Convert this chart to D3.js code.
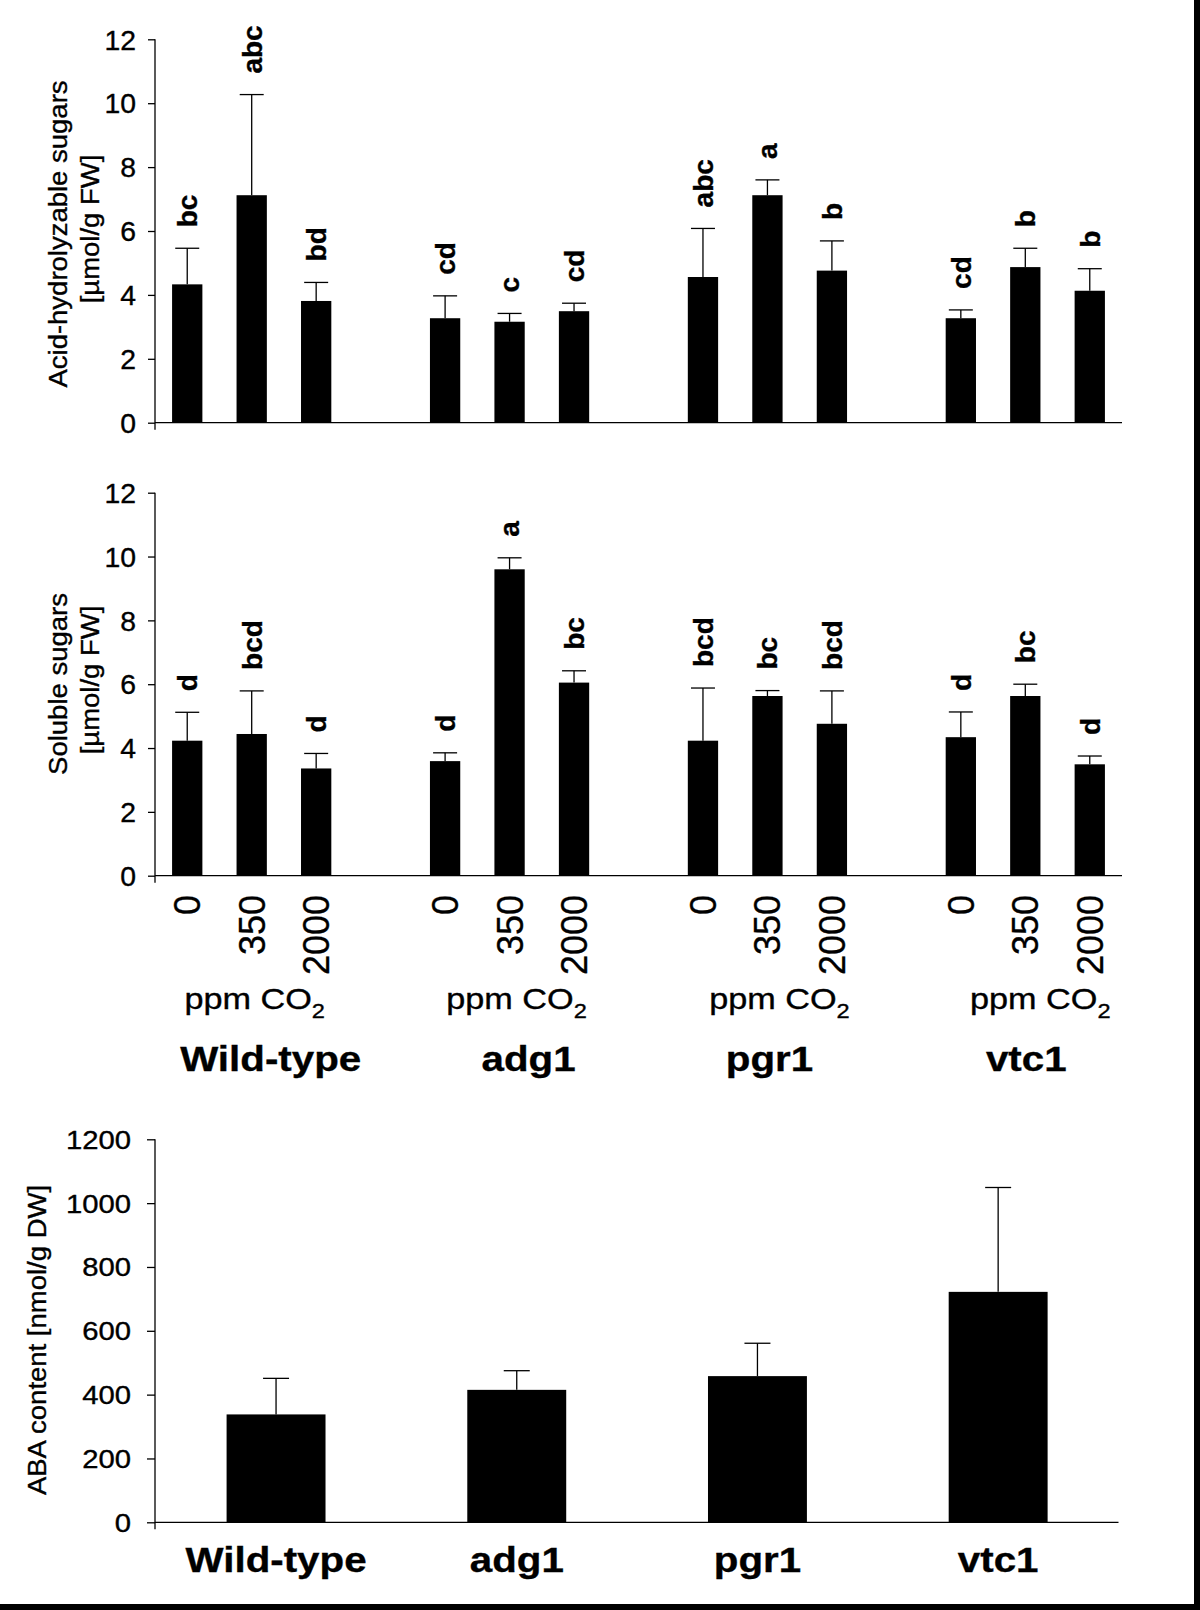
<!DOCTYPE html>
<html><head><meta charset="utf-8">
<script src="https://cdn.jsdelivr.net/npm/d3@7"></script>
<style>
body{margin:0;background:#fff}
svg{display:block}
text{font-family:"Liberation Sans",Arial,Helvetica,sans-serif;fill:#000}
</style>
</head><body>
<svg id="chart" width="1200" height="1610"></svg>
<script>
// ---------------- data ----------------
const groups = ["Wild-type", "adg1", "pgr1", "vtc1"];
const co2Levels = ["0", "350", "2000"];

// Acid-hydrolyzable sugars [µmol/g FW], order: group x CO2 level
const acidMean    = [4.33, 7.12, 3.81,  3.27, 3.16, 3.49,  4.56, 7.12, 4.76,  3.27, 4.87, 4.13];
const acidErr     = [1.13, 3.15, 0.58,  0.70, 0.26, 0.25,  1.52, 0.48, 0.93,  0.26, 0.59, 0.69];
const acidLetters = ["bc", "abc", "bd", "cd", "c", "cd", "abc", "a", "b", "cd", "b", "b"];

// Soluble sugars [µmol/g FW]
const solMean    = [4.23, 4.44, 3.36,  3.59, 9.60, 6.05,  4.23, 5.63, 4.76,  4.34, 5.63, 3.49];
const solErr     = [0.89, 1.35, 0.47,  0.26, 0.36, 0.37,  1.65, 0.17, 1.03,  0.79, 0.37, 0.26];
const solLetters = ["d", "bcd", "d", "d", "a", "bc", "bcd", "bc", "bcd", "d", "bc", "d"];

// ABA content [nmol/g DW]
const abaMean = [338, 415, 458, 722];
const abaErr  = [113, 60, 103, 327];

const sugarTicks = [0, 2, 4, 6, 8, 10, 12];
const abaTicks = [0, 200, 400, 600, 800, 1000, 1200];

const acidTitle = ["Acid-hydrolyzable sugars", "[µmol/g FW]"];
const solTitle = ["Soluble sugars", "[µmol/g FW]"];
const abaTitle = "ABA content [nmol/g DW]";
const unitLabel = ["ppm CO", "2"];

// ---------------- layout ----------------
const svg = d3.select("#chart");
const AX_X = 155;
const X_END = 1122;
const nameNudge = [19, 19, 2, 1];   // manual label placement of original figure
const ppmNudge = [3, 7, 12, 15];

const slotKeys = [];
groups.forEach((g, gi) => {
  if (gi > 0) slotKeys.push("gap" + gi);
  co2Levels.forEach(c => slotKeys.push(g + "|" + c));
});
const xS = d3.scaleBand().domain(slotKeys).range([AX_X, X_END])
  .paddingInner(0.53).paddingOuter(0.265);
const cx = k => xS(k) + xS.bandwidth() / 2;
const groupCenter = g => cx(g + "|" + co2Levels[1]);

function rowsOf(means, errs, letters) {
  const rows = [];
  groups.forEach((g, gi) => co2Levels.forEach((c, ci) => {
    const i = gi * co2Levels.length + ci;
    rows.push({ key: g + "|" + c, g, c, m: means[i], e: errs[i], l: letters[i] });
  }));
  return rows;
}

function stretchedText(parent, x, y, str, opts) {
  const g = parent.append("g")
    .attr("transform", `translate(${x},${y})` + (opts.rotate ? " rotate(-90)" : "") + ` scale(${opts.sx || 1},1)`);
  const t = g.append("text")
    .attr("text-anchor", opts.anchor || "middle")
    .attr("font-size", opts.size)
    .attr("font-weight", opts.bold ? "bold" : "normal")
    .attr("dy", opts.dy || 0)
    .attr("stroke", "#000")
    .attr("stroke-width", opts.weight || 0.35)
    .text(str);
  return t;
}

function yAxis(y, ticks, opts) {
  const ax = d3.axisLeft(y).tickValues(ticks).tickFormat(d3.format("d"))
    .tickSize(opts.tick).tickSizeOuter(0).tickPadding(opts.pad);
  const g = svg.append("g").attr("transform", `translate(${AX_X},0)`).call(ax);
  g.attr("font-family", null).attr("font-size", null);
  g.select(".domain").remove();
  g.selectAll(".tick line").attr("stroke", "#000").attr("stroke-width", 1.3);
  g.selectAll(".tick text")
    .attr("fill", "#000")
    .attr("stroke", "#000").attr("stroke-width", 0.35)
    .attr("font-size", opts.size)
    .attr("x", -(opts.tick + opts.pad) / opts.sx)
    .attr("dy", "0.36em")
    .attr("transform", `scale(${opts.sx},1)`);
  const [lo, hi] = y.domain();
  svg.append("line").attr("x1", AX_X).attr("x2", AX_X)
    .attr("y1", y(hi)).attr("y2", y(lo) + 7)
    .attr("stroke", "#000").attr("stroke-width", 1.3);
}

function sugarPanel(y0, y12, means, errs, letters, title, titleY) {
  const y = d3.scaleLinear().domain([0, 12]).range([y0, y12]);
  const rows = rowsOf(means, errs, letters);
  yAxis(y, sugarTicks, { tick: 7, pad: 12, size: 27, sx: 1.05 });
  svg.append("line").attr("x1", AX_X).attr("x2", X_END).attr("y1", y(0)).attr("y2", y(0))
    .attr("stroke", "#000").attr("stroke-width", 1.3);

  svg.append("g").selectAll("rect").data(rows).join("rect")
    .attr("x", d => xS(d.key)).attr("width", xS.bandwidth())
    .attr("y", d => y(d.m)).attr("height", d => y(0) - y(d.m))
    .attr("fill", "#000");

  const eb = svg.append("g").attr("stroke", "#000").attr("stroke-width", 1.3);
  eb.selectAll(".stem").data(rows).join("line").attr("class", "stem")
    .attr("x1", d => cx(d.key)).attr("x2", d => cx(d.key))
    .attr("y1", d => y(d.m)).attr("y2", d => y(d.m + d.e));
  eb.selectAll(".cap").data(rows).join("line").attr("class", "cap")
    .attr("x1", d => cx(d.key) - 12).attr("x2", d => cx(d.key) + 12)
    .attr("y1", d => y(d.m + d.e)).attr("y2", d => y(d.m + d.e));

  rows.forEach(d => {
    stretchedText(svg, cx(d.key), y(d.m + d.e) - 21, d.l,
      { rotate: true, anchor: "start", size: 28, bold: true, dy: "0.35em" });
  });

  stretchedText(svg, 66.5, titleY[0], title[0], { rotate: true, size: 25, sx: 1.1 });
  stretchedText(svg, 98.5, titleY[1], title[1], { rotate: true, size: 25, sx: 1.1 });
  return { y, rows };
}

// ---------- top panel ----------
sugarPanel(422.7, 39.3, acidMean, acidErr, acidLetters, acidTitle, [234, 229]);

// ---------- middle panel ----------
const mid = sugarPanel(875.7, 492.7, solMean, solErr, solLetters, solTitle, [684, 680]);

// CO2 level labels (rotated)
mid.rows.forEach(d => {
  stretchedText(svg, cx(d.key), 895, d.c, { rotate: true, anchor: "end", size: 36, dy: "0.36em" });
});
// ppm CO2 and genotype labels
groups.forEach((g, gi) => {
  const t = stretchedText(svg, groupCenter(g) + ppmNudge[gi], 1009, "", { size: 29, sx: 1.18 });
  t.append("tspan").text(unitLabel[0]);
  t.append("tspan").attr("font-size", 20).attr("dy", 9).text(unitLabel[1]);
  stretchedText(svg, groupCenter(g) + nameNudge[gi], 1071, g, { size: 36, bold: true, sx: 1.12 });
});

// ---------- bottom panel (ABA) ----------
const xB = d3.scaleBand().domain(groups).range([155.7, 1118.5]).paddingInner(0.589).paddingOuter(0.2945);
const yB = d3.scaleLinear().domain([0, 1200]).range([1522.3, 1139.3]);
yAxis(yB, abaTicks, { tick: 8, pad: 16, size: 25, sx: 1.17 });
svg.append("line").attr("x1", AX_X).attr("x2", 1118.5).attr("y1", yB(0)).attr("y2", yB(0))
  .attr("stroke", "#000").attr("stroke-width", 1.3);
const abaRows = groups.map((g, i) => ({ g, m: abaMean[i], e: abaErr[i] }));
const bcx = g => xB(g) + xB.bandwidth() / 2;
svg.append("g").selectAll("rect").data(abaRows).join("rect")
  .attr("x", d => xB(d.g)).attr("width", xB.bandwidth())
  .attr("y", d => yB(d.m)).attr("height", d => yB(0) - yB(d.m))
  .attr("fill", "#000");
const ebB = svg.append("g").attr("stroke", "#000").attr("stroke-width", 1.3);
ebB.selectAll(".stem").data(abaRows).join("line").attr("class", "stem")
  .attr("x1", d => bcx(d.g)).attr("x2", d => bcx(d.g))
  .attr("y1", d => yB(d.m)).attr("y2", d => yB(d.m + d.e));
ebB.selectAll(".cap").data(abaRows).join("line").attr("class", "cap")
  .attr("x1", d => bcx(d.g) - 13).attr("x2", d => bcx(d.g) + 13)
  .attr("y1", d => yB(d.m + d.e)).attr("y2", d => yB(d.m + d.e));
groups.forEach(g => {
  stretchedText(svg, bcx(g), 1572, g, { size: 36, bold: true, sx: 1.12 });
});
stretchedText(svg, 46, 1340, abaTitle, { rotate: true, size: 25, sx: 1.1 });

// ---------- frame (right and bottom edges) ----------
svg.append("rect").attr("x", 1194).attr("y", 0).attr("width", 6).attr("height", 1610).attr("fill", "#000");
svg.append("rect").attr("x", 0).attr("y", 1604).attr("width", 1200).attr("height", 6).attr("fill", "#000");
</script>
</body></html>
